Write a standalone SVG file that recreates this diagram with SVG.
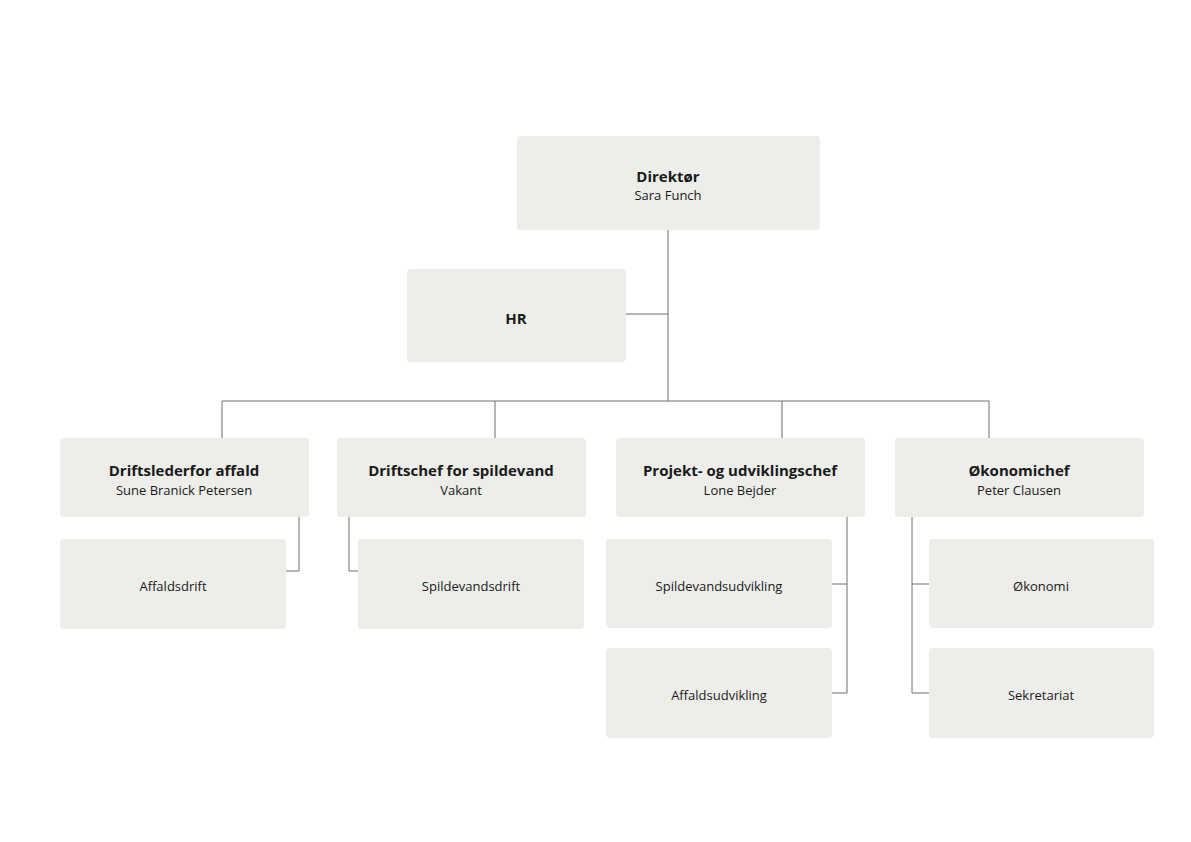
<svg xmlns="http://www.w3.org/2000/svg" width="1191" height="842" viewBox="0 0 1191 842">
<style>
.b{fill:#ededea}
.t{font-family:"Open Sans","Liberation Sans",sans-serif;fill:#1a1a1a;text-anchor:middle}
.h{font-size:15px;font-weight:bold}
.s{font-size:13px}
.c{fill:none;stroke:#6e6e6e;stroke-width:1}
</style>
<rect width="1191" height="842" fill="#fff"/>
<g id="connectors" class="c">
<path d="M668 230V401M626 314H668M222 438V401H989V438M495 401V438M782 401V438"/>
<path d="M299 517V571H286"/>
<path d="M349 517V571H358"/>
<path d="M847 517V693H832M847 584H832"/>
<path d="M912 517V693H929M912 584H929"/>
</g>
<g id="direktor"><rect class="b" x="517" y="136" width="303" height="94" rx="4"/><text class="t h" x="668" y="182">Direktør</text><text class="t s" x="668" y="200">Sara Funch</text></g>
<g id="hr"><rect class="b" x="407" y="269" width="219" height="93" rx="4"/><text class="t h" x="516" y="324">HR</text></g>
<g id="affald"><rect class="b" x="60" y="438" width="249" height="79" rx="4"/><text class="t h" x="184" y="476">Driftslederfor affald</text><text class="t s" x="184" y="495">Sune Branick Petersen</text></g>
<g id="spildevand"><rect class="b" x="337" y="438" width="249" height="79" rx="4"/><text class="t h" x="461" y="476">Driftschef for spildevand</text><text class="t s" x="461" y="495">Vakant</text></g>
<g id="projekt"><rect class="b" x="616" y="438" width="249" height="79" rx="4"/><text class="t h" x="740" y="476">Projekt- og udviklingschef</text><text class="t s" x="740" y="495">Lone Bejder</text></g>
<g id="okonomichef"><rect class="b" x="895" y="438" width="249" height="79" rx="4"/><text class="t h" x="1019" y="476">Økonomichef</text><text class="t s" x="1019" y="495">Peter Clausen</text></g>
<g id="affaldsdrift"><rect class="b" x="60" y="539" width="226" height="90" rx="4"/><text class="t s" x="173" y="591">Affaldsdrift</text></g>
<g id="spildevandsdrift"><rect class="b" x="358" y="539" width="226" height="90" rx="4"/><text class="t s" x="471" y="591">Spildevandsdrift</text></g>
<g id="spildevandsudvikling"><rect class="b" x="606" y="539" width="226" height="89" rx="4"/><text class="t s" x="719" y="591">Spildevandsudvikling</text></g>
<g id="affaldsudvikling"><rect class="b" x="606" y="648" width="226" height="90" rx="4"/><text class="t s" x="719" y="700">Affaldsudvikling</text></g>
<g id="okonomi"><rect class="b" x="929" y="539" width="225" height="89" rx="4"/><text class="t s" x="1041" y="591">Økonomi</text></g>
<g id="sekretariat"><rect class="b" x="929" y="648" width="225" height="90" rx="4"/><text class="t s" x="1041" y="700">Sekretariat</text></g>
</svg>
